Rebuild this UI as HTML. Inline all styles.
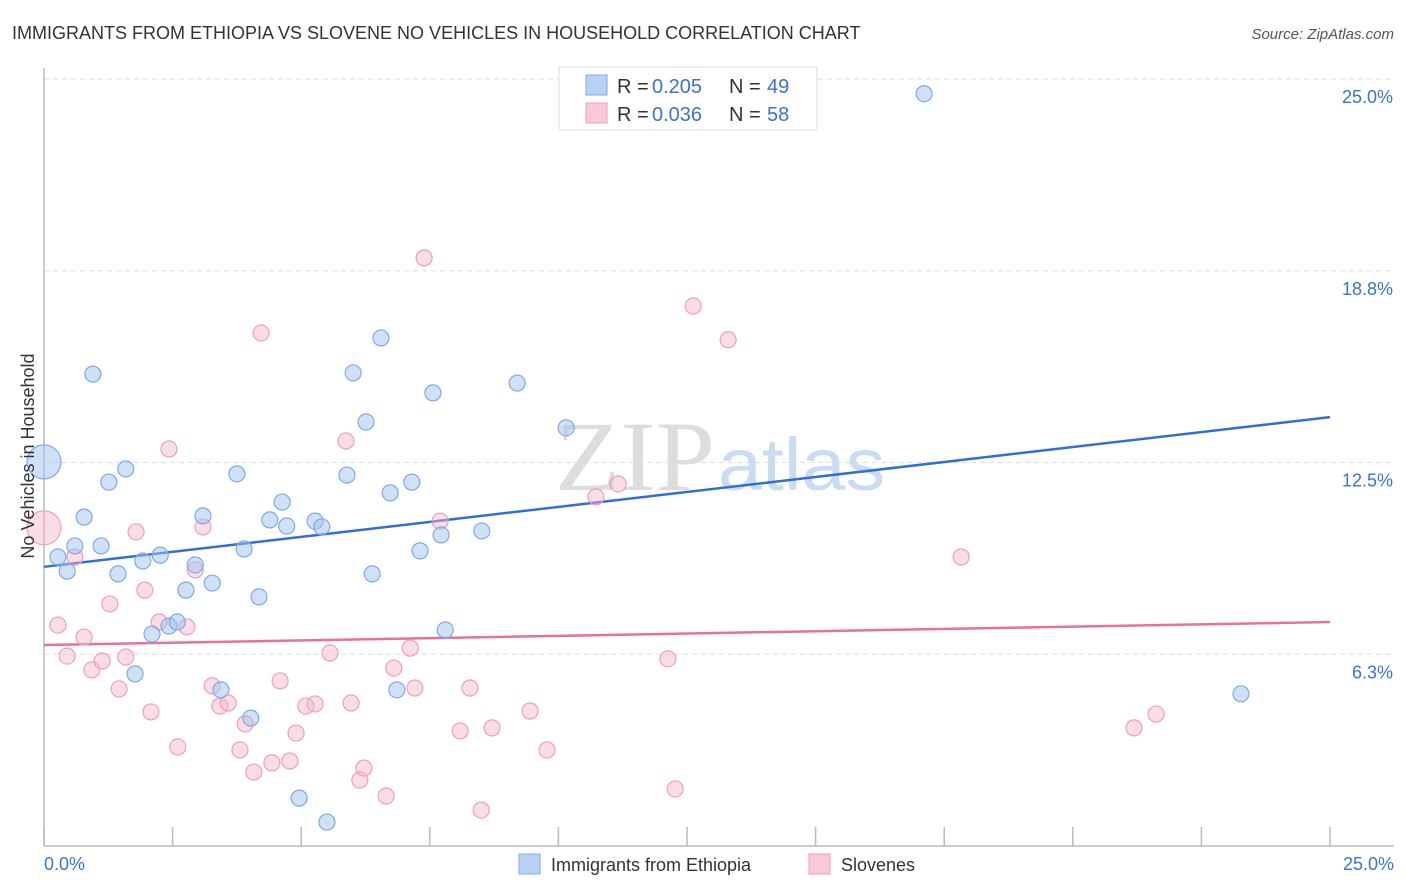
<!DOCTYPE html>
<html><head><meta charset="utf-8"><style>
body{margin:0;background:#fff;width:1406px;height:892px;overflow:hidden;font-family:"Liberation Sans",sans-serif}
svg{position:absolute;left:0;top:0}
</style></head><body>
<svg id="chart" width="1406" height="892">
<text x="12" y="39" font-size="18" fill="#333">IMMIGRANTS FROM ETHIOPIA VS SLOVENE NO VEHICLES IN HOUSEHOLD CORRELATION CHART</text>
<text x="1394" y="39" font-size="15" fill="#555" font-style="italic" text-anchor="end">Source: ZipAtlas.com</text>
<text x="555" y="490" font-size="100" fill="#ddd" textLength="160" lengthAdjust="spacingAndGlyphs" font-family="Liberation Serif,serif">ZIP</text>
<text x="718" y="490" font-size="74" fill="#c9dcf2" textLength="167" lengthAdjust="spacingAndGlyphs">atlas</text>
<g id="grid"></g>
<g id="axes"></g>
<g id="trend"></g>
<g id="pts"></g>
<text transform="translate(34,456) rotate(-90)" font-size="18" fill="#333" text-anchor="middle">No Vehicles in Household</text>
<text x="44" y="870" font-size="18" fill="#3a73d0">0.0%</text>
<text x="1394" y="870" font-size="18" fill="#3a73d0" text-anchor="end">25.0%</text>
<g>
<rect x="559" y="67" width="258" height="63" fill="#fff" stroke="#ddd"/>
<rect x="586" y="75" width="21" height="20" fill="#b8d2f5" stroke="#7fa8e8"/>
<rect x="586" y="103" width="21" height="20" fill="#f9c9d7" stroke="#eea0b8"/>
<text x="617" y="93" font-size="20" fill="#333">R =</text>
<text x="652" y="93" font-size="20" fill="#3a73d0">0.205</text>
<text x="729" y="93" font-size="20" fill="#333">N =</text>
<text x="767" y="93" font-size="20" fill="#3a73d0">49</text>
<text x="617" y="121" font-size="20" fill="#333">R =</text>
<text x="652" y="121" font-size="20" fill="#3a73d0">0.036</text>
<text x="729" y="121" font-size="20" fill="#333">N =</text>
<text x="767" y="121" font-size="20" fill="#3a73d0">58</text>
</g>
<g>
<rect x="519" y="854" width="21" height="20" fill="#b8d2f5" stroke="#7fa8e8"/>
<text x="551" y="871" font-size="18" fill="#333">Immigrants from Ethiopia</text>
<rect x="809" y="854" width="21" height="20" fill="#f9c9d7" stroke="#eea0b8"/>
<text x="841" y="871" font-size="18" fill="#333">Slovenes</text>
</g>
</svg>
<script>
const yTicks=[6.25,12.5,18.75,25];
const yTickLabels=["6.3%","12.5%","18.8%","25.0%"];
const xTicks=[0,2.5,5,7.5,10,12.5,15,17.5,20,22.5,25];
const blueX=[0,.27,.45,.60,.78,.95,1.11,1.26,1.44,1.59,1.77,1.92,2.10,2.26,2.43,2.59,2.76,2.94,3.09,3.27,3.44,3.75,3.89,4.02,4.18,4.39,4.63,4.72,4.96,5.27,5.40,5.50,5.89,6.01,6.26,6.38,6.55,6.73,6.86,7.15,7.31,7.56,7.72,7.80,8.51,9.20,10.15,17.11,23.27];
const blueY=[12.52,9.42,8.96,9.78,10.72,15.38,9.78,11.86,8.87,12.29,5.61,9.29,6.91,9.48,7.17,7.30,8.34,9.16,10.76,8.57,5.09,12.13,9.68,4.17,8.12,10.63,11.21,10.43,1.56,10.59,10.40,0.78,12.09,15.42,13.82,8.87,16.56,11.51,5.09,11.86,9.62,14.77,10.14,7.04,10.27,15.09,13.63,24.52,4.96];
const pinkX=[0,.27,.45,.60,.78,.93,1.13,1.28,1.46,1.59,1.79,1.96,2.08,2.24,2.43,2.60,2.78,2.94,3.09,3.27,3.42,3.58,3.81,3.91,4.08,4.22,4.43,4.59,4.78,4.90,5.09,5.27,5.56,5.87,5.97,6.14,6.22,6.65,6.80,7.12,7.21,7.39,7.70,8.09,8.28,8.50,8.71,9.45,9.78,10.73,11.16,12.13,12.27,12.62,13.30,17.83,21.19,21.62];
const pinkY=[10.37,7.20,6.19,9.42,6.81,5.74,6.03,7.89,5.12,6.16,10.24,8.34,4.37,7.30,12.94,3.23,7.14,9.00,10.40,5.22,4.56,4.66,3.13,3.98,2.41,16.72,2.71,5.38,2.77,3.68,4.56,4.63,6.29,13.20,4.66,2.15,2.54,1.63,5.80,6.45,5.15,19.17,10.59,3.75,5.15,1.17,3.85,4.40,3.13,11.38,11.80,6.10,1.86,17.60,16.50,9.42,3.85,4.30];
const trendStart=[9.10,6.55];
const trendEnd=[13.98,7.30];
const NS="http://www.w3.org/2000/svg";
const X=v=>44+v/25*1286, Y=v=>846-v/25*767;
function mk(t,a,p){const e=document.createElementNS(NS,t);for(const k in a)e.setAttribute(k,a[k]);document.getElementById(p).appendChild(e);return e;}
yTicks.forEach((t,i)=>{
 const l=mk('line',{x1:44,x2:1394,y1:Y(t),y2:Y(t),stroke:'#ddd','stroke-dasharray':'5,4'},'grid');
 
 
 const tx=mk('text',{x:1393,y:Y(t)+24,'font-size':18,fill:'#3a73d0','text-anchor':'end'},'grid');
 tx.textContent=yTickLabels[i];
 
 
});
mk('line',{x1:44,x2:44,y1:68,y2:846,stroke:'#bbb','stroke-width':1.5},'axes');
mk('line',{x1:44,x2:1394,y1:846,y2:846,stroke:'#bbb','stroke-width':1.5},'axes');
xTicks.forEach(t=>{const l=mk('line',{x1:X(t),x2:X(t),y1:827,y2:846,stroke:'#bbb','stroke-width':1.5},'axes');
 
 });
const cols=['#2f6fd6','#e8709a'];
[0,1].forEach(i=>{const l=mk('line',{x1:X(0),y1:Y(trendStart[i]),x2:X(25),y2:Y(trendEnd[i]),stroke:cols[i],'stroke-width':2.5},'trend');
 
 });
function pts(xs,ys,fill,stroke,name){xs.forEach((x,i)=>{const c=mk('circle',{cx:X(x),cy:Y(ys[i]),r:i==0?17:8,fill:fill,stroke:stroke,'stroke-width':1.2},'pts');
 
 });}
pts(pinkX,pinkY,'rgba(246,180,200,0.45)','#eea0b8','slovenes-point');
pts(blueX,blueY,'rgba(160,195,240,0.5)','#7fa8e8','ethiopia-point');
</script>
</body></html>
